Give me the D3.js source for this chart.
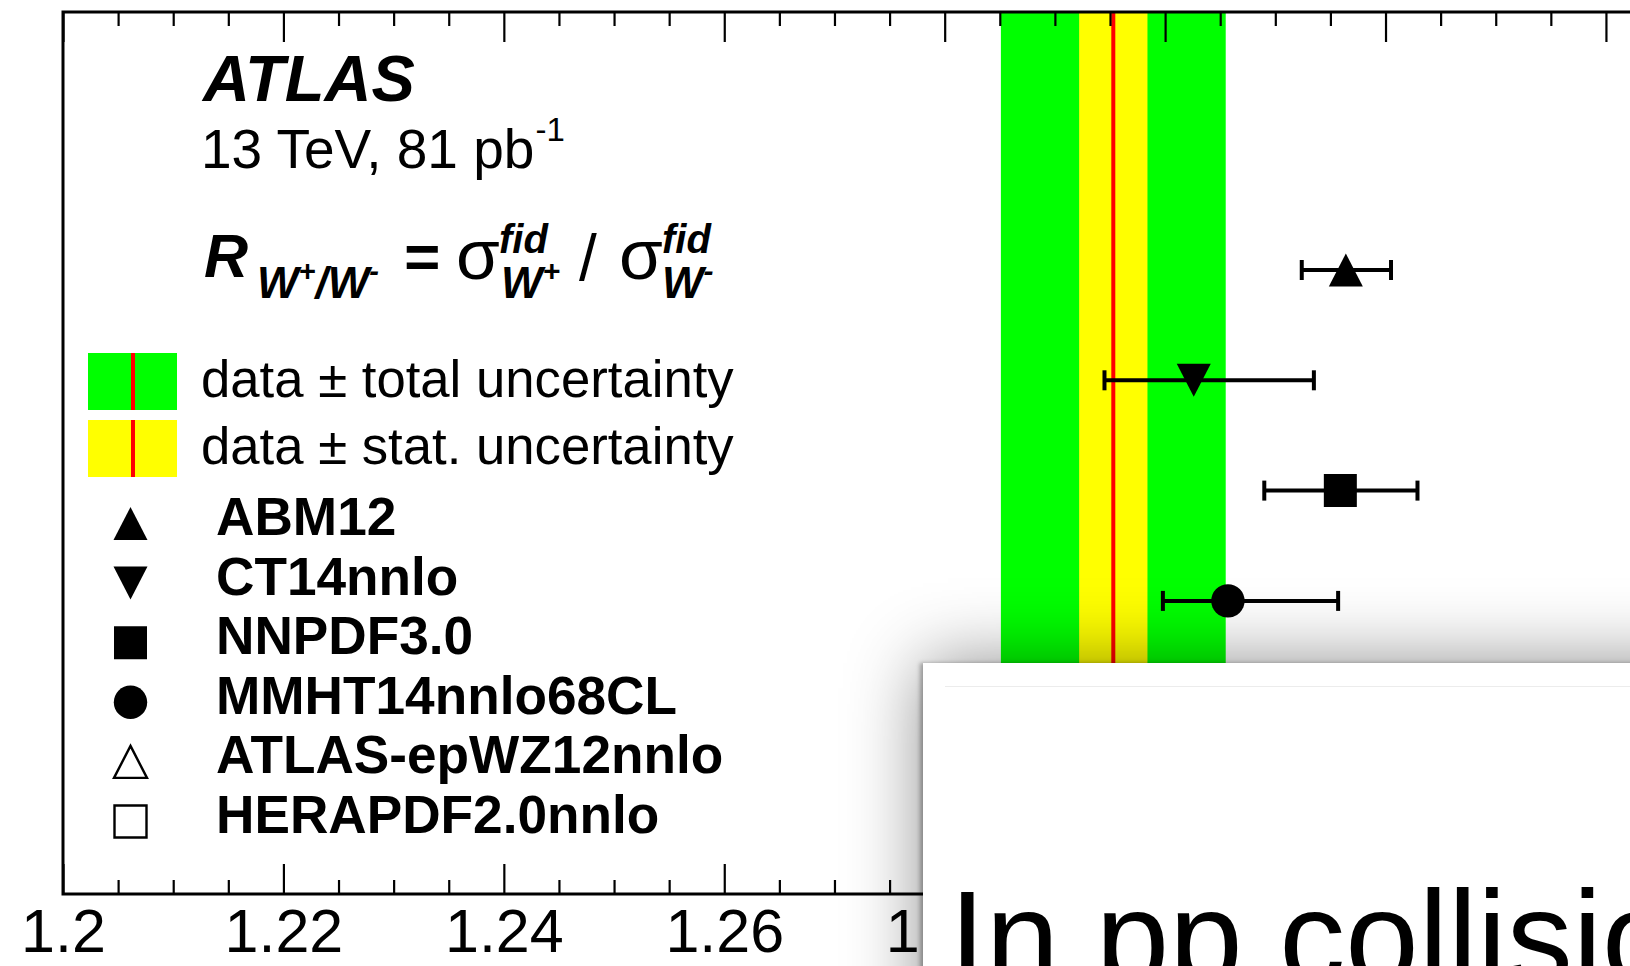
<!DOCTYPE html>
<html>
<head>
<meta charset="utf-8">
<script src="https://cdn.jsdelivr.net/npm/d3@7"></script>
<style>
  html, body { margin:0; padding:0; background:#fff; overflow:hidden; width:1630px; height:966px; }
  #chart { position:absolute; left:0; top:0; }
  #popup { position:absolute; left:923px; top:663px; width:820px; height:420px; background:#fff;
           box-shadow: -3px 0 4px rgba(0,0,0,0.30), 0 0 70px rgba(0,0,0,0.45); overflow:hidden; }
  #popup .rule { position:absolute; left:22px; top:23px; right:0; height:1px; background:#ececec; }
  #popup svg { position:absolute; left:0; top:0; }
  text { font-family: "Liberation Sans", Arial, Helvetica, sans-serif; }
</style>
</head>
<body>
<svg id="chart" width="1630" height="966"></svg>
<script>
// ---------------- data ----------------
const models       = ["ABM12", "CT14nnlo", "NNPDF3.0", "MMHT14nnlo68CL", "ATLAS-epWZ12nnlo", "HERAPDF2.0nnlo"];
const markerShapes = ["triUp", "triDown", "square", "circle", "openTri", "openSquare"];
const predCentral  = [1.3164, 1.3026, 1.3159, 1.3057, null, null];
const predLow      = [1.3124, 1.2945, 1.3090, 1.2998, null, null];
const predHigh     = [1.3205, 1.3135, 1.3229, 1.3157, null, null];
const dataCentral  = 1.2953;
const dataStat     = 0.0031;
const dataTotal    = 0.0102;
const majorTicks   = [1.20, 1.22, 1.24, 1.26, 1.28, 1.30, 1.32, 1.34];
// labels beyond 1.28 lie under the overlay panel in the reference
const tickLabels   = ["1.2", "1.22", "1.24", "1.26", "1.28", "", "", ""];
const bandLabels   = ["data \u00b1 total uncertainty", "data \u00b1 stat. uncertainty"];
const bandColors   = ["#00ff00", "#ffff00"];

// ---------------- layout ----------------
const svg = d3.select("#chart");
const frame = { left: 63, top: 12, bottom: 894 };
const x = d3.scaleLinear().domain([1.2, 1.35]).range([63, 63 + 0.15 * 11021]);
const yRow = d3.scaleLinear().domain([0, 5]).range([270, 821.5]);

// bands
const bands = svg.append("g");
bands.append("rect")
  .attr("x", x(dataCentral - dataTotal)).attr("width", x(dataCentral + dataTotal) - x(dataCentral - dataTotal))
  .attr("y", frame.top).attr("height", frame.bottom - frame.top).attr("fill", bandColors[0]);
bands.append("rect")
  .attr("x", x(dataCentral - dataStat)).attr("width", x(dataCentral + dataStat) - x(dataCentral - dataStat))
  .attr("y", frame.top).attr("height", frame.bottom - frame.top).attr("fill", bandColors[1]);
bands.append("line")
  .attr("x1", x(dataCentral)).attr("x2", x(dataCentral))
  .attr("y1", frame.top).attr("y2", frame.bottom)
  .attr("stroke", "#ff0000").attr("stroke-width", 4);

// axes
const minorTicks = d3.range(0, 31).map(i => 1.2 + i * 0.005).filter(v => !majorTicks.some(m => Math.abs(m - v) < 1e-6));
function styleAxis(g) {
  g.select(".domain").remove();
  g.selectAll(".tick line").attr("stroke", "#000").attr("stroke-width", 2.2);
}
svg.append("g").attr("transform", `translate(0,${frame.bottom})`)
  .call(d3.axisBottom(x).tickValues(majorTicks).tickSizeInner(-30).tickSizeOuter(0).tickPadding(15)
        .tickFormat((d, i) => tickLabels[i]))
  .call(styleAxis)
  .call(g => g.selectAll(".tick text").attr("fill", "#000").attr("font-size", 61)
        .attr("font-family", "'Liberation Sans', Arial, sans-serif"));
svg.append("g").attr("transform", `translate(0,${frame.bottom})`)
  .call(d3.axisBottom(x).tickValues(minorTicks).tickSizeInner(-14).tickSizeOuter(0).tickFormat(""))
  .call(styleAxis);
svg.append("g").attr("transform", `translate(0,${frame.top})`)
  .call(d3.axisTop(x).tickValues(majorTicks).tickSizeInner(-30).tickSizeOuter(0).tickFormat(""))
  .call(styleAxis);
svg.append("g").attr("transform", `translate(0,${frame.top})`)
  .call(d3.axisTop(x).tickValues(minorTicks).tickSizeInner(-14).tickSizeOuter(0).tickFormat(""))
  .call(styleAxis);

// frame
svg.append("rect")
  .attr("x", frame.left).attr("y", frame.top)
  .attr("width", x.range()[1] - frame.left).attr("height", frame.bottom - frame.top)
  .attr("fill", "none").attr("stroke", "#000").attr("stroke-width", 3);

// marker drawing
function drawMarker(g, shape, cx, cy) {
  const h = 16.5, w = 17;
  if (shape === "circle") {
    g.append("circle").attr("cx", cx).attr("cy", cy).attr("r", 16.7).attr("fill", "#000");
    return;
  }
  let p, open = false;
  if (shape === "triUp")      p = `M${cx},${cy - h} L${cx + w},${cy + h} L${cx - w},${cy + h} Z`;
  if (shape === "triDown")    p = `M${cx},${cy + h} L${cx + w},${cy - h} L${cx - w},${cy - h} Z`;
  if (shape === "square")     p = `M${cx - h},${cy - h} h33 v33 h-33 Z`;
  if (shape === "openTri")  { p = `M${cx},${cy - 16} L${cx + 16.5},${cy + 16} L${cx - 16.5},${cy + 16} Z`; open = true; }
  if (shape === "openSquare"){ p = `M${cx - 16},${cy - 16} h32 v32 h-32 Z`; open = true; }
  g.append("path").attr("d", p)
    .attr("fill", open ? "#fff" : "#000")
    .attr("stroke", "#000").attr("stroke-width", open ? 2.4 : 0)
    .attr("stroke-linejoin", "miter");
}

// predictions
const pts = svg.append("g");
models.forEach((m, i) => {
  if (predCentral[i] === null) return;
  const cy = yRow(i);
  pts.append("line").attr("x1", x(predLow[i])).attr("x2", x(predHigh[i]))
    .attr("y1", cy).attr("y2", cy).attr("stroke", "#000").attr("stroke-width", 4);
  [predLow[i], predHigh[i]].forEach(v => {
    pts.append("line").attr("x1", x(v)).attr("x2", x(v))
      .attr("y1", cy - 10).attr("y2", cy + 10).attr("stroke", "#000").attr("stroke-width", 4);
  });
  drawMarker(pts, markerShapes[i], x(predCentral[i]), cy);
});

// labels
const lab = svg.append("g");
lab.append("text").attr("x", 203).attr("y", 101).attr("font-size", 65)
  .attr("font-weight", "bold").attr("font-style", "italic").text("ATLAS");
const lumi = lab.append("text").attr("x", 201).attr("y", 168).attr("font-size", 55);
lumi.append("tspan").text("13 TeV, 81 pb");
lumi.append("tspan").attr("font-size", 33).attr("dx", 1).attr("dy", -27).text("-1");

// formula
const BI = t => t.attr("font-weight", "bold").attr("font-style", "italic");
const SERIF = "'Liberation Serif', 'Times New Roman', serif";
BI(lab.append("text").attr("x", 204).attr("y", 277).attr("font-size", 61)).text("R");
function subW(xp, sign) {
  const t = BI(lab.append("text").attr("x", xp).attr("y", 298).attr("font-size", 44));
  t.append("tspan").text("W");
  t.append("tspan").attr("font-size", 30).attr("dy", -17).text(sign);
  return t;
}
const sub1 = BI(lab.append("text").attr("x", 257).attr("y", 298).attr("font-size", 44));
sub1.append("tspan").text("W");
sub1.append("tspan").attr("font-size", 29).attr("dy", -17).text("+");
sub1.append("tspan").attr("dy", 17).text("/W");
sub1.append("tspan").attr("font-size", 29).attr("dy", -17).text("-");
BI(lab.append("text").attr("x", 403).attr("y", 278).attr("font-size", 62)).text("=");
lab.append("text").attr("x", 456).attr("y", 279).attr("font-size", 71)
  .attr("font-family", SERIF).text("\u03c3");
BI(lab.append("text").attr("x", 499).attr("y", 253).attr("font-size", 40)).text("fid");
subW(501, "+");
lab.append("text").attr("x", 579).attr("y", 280).attr("font-size", 64).text("/");
lab.append("text").attr("x", 619).attr("y", 279).attr("font-size", 71)
  .attr("font-family", SERIF).text("\u03c3");
BI(lab.append("text").attr("x", 662).attr("y", 253).attr("font-size", 40)).text("fid");
subW(662, "-");

// legend: bands
const legY = d3.scaleLinear().domain([0, 1]).range([353, 420]);
bandLabels.forEach((t, i) => {
  const y0 = legY(i);
  lab.append("rect").attr("x", 88).attr("y", y0).attr("width", 89).attr("height", 57).attr("fill", bandColors[i]);
  lab.append("line").attr("x1", 133).attr("x2", 133).attr("y1", y0).attr("y2", y0 + 57)
    .attr("stroke", "#ff0000").attr("stroke-width", 4);
  lab.append("text").attr("x", 201).attr("y", y0 + 44).attr("font-size", 52.7).text(t);
});
// legend: models
const legRow = d3.scaleLinear().domain([0, 1]).range([535, 594.6]);
models.forEach((m, i) => {
  drawMarker(lab, markerShapes[i], 130.5, legRow(i) - 11.5);
  lab.append("text").attr("x", 216).attr("y", legRow(i)).attr("font-size", 53.2)
    .attr("font-weight", "bold").text(m);
});

// overlay popup (screenshot element)
const pop = d3.select("body").append("div").attr("id", "popup");
pop.append("div").attr("class", "rule");
const psvg = pop.append("svg").attr("width", 820).attr("height", 420);
psvg.append("text").attr("x", 26).attr("y", 320).attr("font-size", 132).attr("fill", "#000")
  .text("In pp collisions at 13 TeV");
</script>
</body>
</html>
